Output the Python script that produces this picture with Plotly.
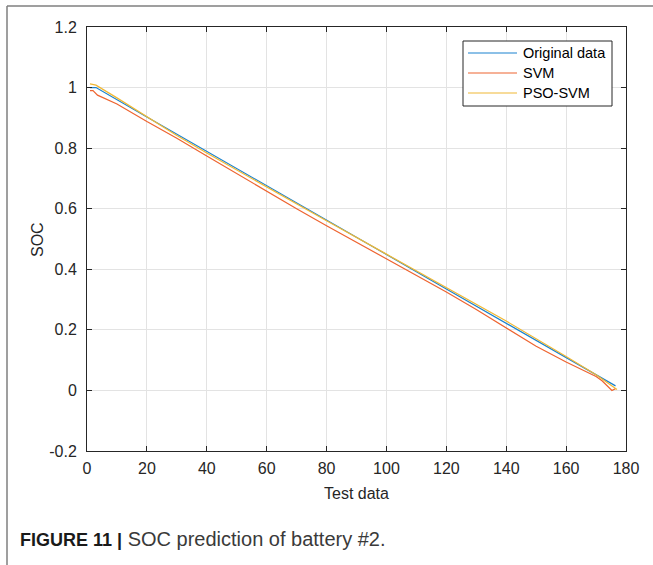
import plotly.graph_objects as go

# Test-sample index and SOC values for each series
x_orig = [1, 3, 20, 40, 60, 80, 100, 120, 140, 160, 176.5]
soc_orig = [1.0, 1.0, 0.903, 0.790, 0.677, 0.563, 0.449, 0.335, 0.222, 0.110, 0.015]

x_svm = [1, 2, 3.5, 10, 20, 30, 40, 50, 60, 70, 80, 90, 100, 110, 120, 130,
         140, 145, 150, 160, 167, 170, 172, 174, 175.3, 176.5]
soc_svm = [0.990, 0.990, 0.975, 0.946, 0.888, 0.833, 0.774, 0.716, 0.657, 0.600,
           0.544, 0.489, 0.435, 0.379, 0.325, 0.267, 0.206, 0.176, 0.146, 0.094,
           0.062, 0.046, 0.032, 0.014, 0.0, 0.006]

x_pso = [1, 3, 10, 20, 30, 40, 60, 80, 100, 120, 140, 160, 170, 177]
soc_pso = [1.012, 1.008, 0.966, 0.903, 0.842, 0.784, 0.671, 0.560, 0.450,
           0.340, 0.229, 0.112, 0.052, 0.003]

series_names = ["Original data", "SVM", "PSO-SVM"]
series_colors = ["#1A82CF", "#EE6430", "#F0B834"]

x_ticks = [0, 20, 40, 60, 80, 100, 120, 140, 160, 180]
y_ticks = [-0.2, 0, 0.2, 0.4, 0.6, 0.8, 1.0, 1.2]
y_tick_text = ["-0.2", "0", "0.2", "0.4", "0.6", "0.8", "1", "1.2"]

FONT = "Liberation Sans, Arial, Helvetica, sans-serif"
AX = "#262626"

# plot-area geometry in pixels, used to place the legend box and page frame
W, H = 653, 565
ML, MR, MT, MB = 87, 27, 27, 114
PW, PH = W - ML - MR, H - MT - MB


def px(xp):
    return (xp - ML) / PW


def py(yp):
    return (H - MB - yp) / PH


fig = go.Figure()
for xs, ys, name, col in zip([x_orig, x_svm, x_pso], [soc_orig, soc_svm, soc_pso],
                             series_names, series_colors):
    fig.add_trace(go.Scatter(x=xs, y=ys, mode="lines", name=name,
                             line=dict(color=col, width=1.2), showlegend=False))

axis_common = dict(
    showline=True, linecolor=AX, linewidth=1, mirror="ticks",
    ticks="inside", ticklen=5, tickcolor=AX, tickwidth=1,
    showgrid=True, gridcolor="#e3e3e3", gridwidth=1, zeroline=False,
    tickfont=dict(family=FONT, size=16, color=AX),
)

fig.update_xaxes(range=[0, 180], tickvals=x_ticks, ticklabelstandoff=3,
                 **axis_common)
fig.update_yaxes(range=[-0.2, 1.2], tickvals=y_ticks, ticktext=y_tick_text,
                 ticklabelstandoff=6, **axis_common)

# legend box (MATLAB style: long line samples)
shapes = [
    dict(type="rect", xref="paper", yref="paper", x0=px(463), x1=px(612),
         y0=py(41), y1=py(106), fillcolor="white",
         line=dict(color=AX, width=1), layer="above"),
]
annotations = []
for i, (name, col) in enumerate(zip(series_names, series_colors)):
    yy = 53 + 20 * i
    shapes.append(dict(type="line", xref="paper", yref="paper",
                       x0=px(468), x1=px(517), y0=py(yy), y1=py(yy),
                       line=dict(color=col, width=1.2), layer="above"))
    annotations.append(dict(text=name, x=px(521), y=py(yy), xref="paper",
                            yref="paper", xanchor="left", yanchor="middle",
                            showarrow=False,
                            font=dict(family=FONT, size=14.5, color="#000000")))

# page frame lines
shapes += [
    dict(type="line", xref="paper", yref="paper", x0=px(7), x1=px(7),
         y0=py(6), y1=py(570), line=dict(color="#7f7f7f", width=1.5)),
    dict(type="line", xref="paper", yref="paper", x0=px(7), x1=px(660),
         y0=py(6), y1=py(6), line=dict(color="#7f7f7f", width=1.5)),
]

annotations += [
    dict(text="Test data", x=0.5, y=py(493), xref="paper", yref="paper",
         xanchor="center", yanchor="middle", showarrow=False,
         font=dict(family=FONT, size=16, color=AX)),
    dict(text="SOC", x=px(37), y=py(240), xref="paper", yref="paper",
         xanchor="center", yanchor="middle",
         textangle=-90, showarrow=False,
         font=dict(family=FONT, size=16, color=AX)),
    dict(text="<b>FIGURE 11 |</b><span style='font-size:20px;color:#3a3a3a'>"
              " SOC prediction of battery #2.</span>",
         x=px(18), y=py(539), xref="paper", yref="paper",
         xanchor="left", yanchor="middle", showarrow=False,
         font=dict(family=FONT, size=18, color="#1a1a1a")),
]

fig.update_layout(
    width=W, height=H,
    margin=dict(l=ML, r=MR, t=MT, b=MB),
    paper_bgcolor="white", plot_bgcolor="white",
    showlegend=False,
    annotations=annotations,
    shapes=shapes,
)

fig.write_html("out.html")
